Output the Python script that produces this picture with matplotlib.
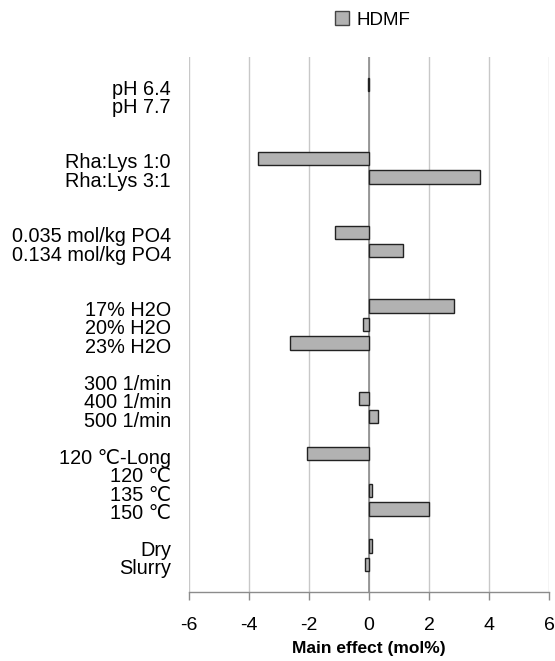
import numpy as np
import matplotlib
matplotlib.use("Agg")
import matplotlib.pyplot as plt
from matplotlib.patches import Patch
from matplotlib.transforms import ScaledTranslation

plt.rcParams['font.family'] = ['Liberation Sans', 'DejaVu Sans']

# Factor levels, top to bottom; empty strings are spacer rows between factors
levels = [
    "", "pH 6.4", "pH 7.7", "", "",
    "Rha:Lys 1:0", "Rha:Lys 3:1", "", "",
    "0.035 mol/kg PO4", "0.134 mol/kg PO4", "", "",
    "17% H2O", "20% H2O", "23% H2O", "",
    "300 1/min", "400 1/min", "500 1/min", "",
    "120 \u2103-Long", "120 \u2103", "135 \u2103", "150 \u2103", "",
    "Dry", "Slurry", "",
]

# Main effect on HDMF yield (mol%), NaN for spacer rows
hdmf = [
    np.nan, -0.03, 0.0, np.nan, np.nan,
    -3.70, 3.69, np.nan, np.nan,
    -1.15, 1.13, np.nan, np.nan,
    2.83, -0.22, -2.63, np.nan,
    0.0, -0.34, 0.29, np.nan,
    -2.07, 0.0, 0.08, 1.99, np.nan,
    0.11, -0.13, np.nan,
]

xticks = [-6, -4, -2, 0, 2, 4, 6]

vals = np.array(hdmf, dtype=float)
vals = np.where(vals == 0, np.nan, vals)   # zero effects are not drawn
rows = np.arange(len(levels))

fig = plt.figure(figsize=(5.55, 6.61), dpi=100)
ax = fig.add_axes([0.3405, 0.1044, 0.6492, 0.8094])

ax.barh(rows, vals, height=0.73, color="#b2b2b2", edgecolor="#222222",
        linewidth=1.0, zorder=3)

# vertical gridlines, darker line at zero
for x in xticks:
    ax.axvline(x, color="#c8c8c8", linewidth=1.0, zorder=1)
ax.axvline(0, color="#8c8c8c", linewidth=1.2, zorder=2)

ax.set_xlim(-6, 6)
ax.set_ylim(len(levels) - 0.5, -0.5)
ax.set_xticks(xticks)
ax.set_xticklabels([str(x) for x in xticks], fontsize=14)
ax.set_yticks(rows)
ax.set_yticklabels(levels, fontsize=14.3)

ax.tick_params(axis="y", length=0, pad=13)
ax.tick_params(axis="x", direction="out", length=6, width=1.0,
               color="#8c8c8c", pad=12)

# category labels sit a little below their bars
for lbl in ax.get_yticklabels():
    lbl.set_transform(lbl.get_transform()
                      + ScaledTranslation(0, -2.5 / 100, fig.dpi_scale_trans))

for side in ["top", "left", "right"]:
    ax.spines[side].set_visible(False)
ax.spines["bottom"].set_color("#8c8c8c")
ax.spines["bottom"].set_linewidth(1.0)

ax.set_xlabel("Main effect (mol%)", fontsize=12.5, fontweight="bold",
              labelpad=5)

handle = Patch(facecolor="#b2b2b2", edgecolor="#444444", linewidth=1.0)
fig.legend([handle], ["HDMF"], loc="center", bbox_to_anchor=(0.672, 0.97),
           frameon=False, fontsize=13.5, handlelength=0.75, handleheight=0.75,
           handletextpad=0.4)

fig.savefig("out.png", dpi=100)
